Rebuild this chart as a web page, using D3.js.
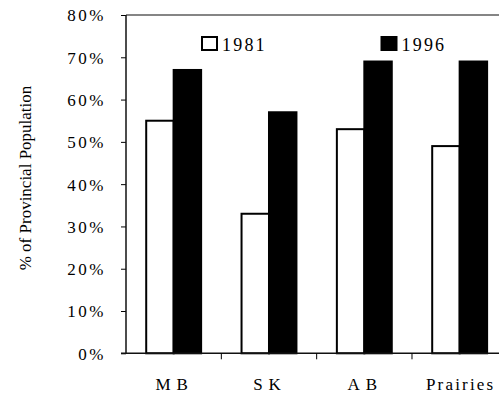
<!DOCTYPE html>
<html>
<head>
<meta charset="utf-8">
<script src="https://cdn.jsdelivr.net/npm/d3@7"></script>
<style>
  html, body { margin: 0; padding: 0; background: #fff; }
  svg { display: block; }
  text { font-family: "Liberation Serif", "Times New Roman", serif; fill: #000; }
</style>
</head>
<body>
<svg id="chart" width="499" height="395"></svg>
<script>
// Share of provincial population, by province, 1981 vs 1996
const categories = ["MB", "SK", "AB", "Prairies"];
const series = ["1981", "1996"];
const values1981 = [55, 33, 53, 49];
const values1996 = [67, 57, 69, 69];
const yTicks = [0, 10, 20, 30, 40, 50, 60, 70, 80];
const yTitle = "% of Provincial Population";

const serif = '"Liberation Serif", "Times New Roman", serif';
const svg = d3.select("#chart");
const plotLeft = 126, plotTop = 15, plotBottom = 353.3;
const band = 95.33;
const plotRight = plotLeft + band * categories.length;

const x0 = d3.scaleBand().domain(categories).range([plotLeft, plotRight]).padding(0);
const gap = x0.bandwidth() * 0.212;
const x1 = d3.scaleBand().domain(series).range([gap, x0.bandwidth() - gap]).padding(0);
const y = d3.scaleLinear().domain([0, 80]).range([plotBottom, plotTop]);

const rows = categories.map((c, i) => ({ cat: c, vals: [values1981[i], values1996[i]] }));
const fills = { "1981": "#fff", "1996": "#000" };

// top frame line
svg.append("line")
  .attr("x1", plotLeft).attr("x2", 499)
  .attr("y1", plotTop).attr("y2", plotTop)
  .attr("stroke", "#858585").attr("stroke-width", 2);

// bars
const groups = svg.append("g").selectAll("g").data(rows).join("g")
  .attr("transform", d => `translate(${x0(d.cat)},0)`);
groups.selectAll("rect")
  .data(d => d.vals.map((v, j) => ({ s: series[j], v })))
  .join("rect")
  .attr("x", d => x1(d.s))
  .attr("width", x1.bandwidth())
  .attr("y", d => y(d.v))
  .attr("height", d => y(0) - y(d.v))
  .attr("fill", d => fills[d.s])
  .attr("stroke", "#000")
  .attr("stroke-width", 2);

// y axis
const yAxis = svg.append("g")
  .attr("transform", `translate(${plotLeft},0)`)
  .call(d3.axisLeft(y).tickValues(yTicks).tickFormat(d => d + "%").tickSize(5).tickPadding(15));
yAxis.attr("font-family", null);
yAxis.select(".domain").remove();
yAxis.selectAll(".tick line").attr("stroke", "#000").attr("stroke-width", 1);
yAxis.selectAll(".tick text")
  .style("font-family", serif)
  .attr("font-size", 17)
  .attr("letter-spacing", 2.5)
  .attr("dy", "0.35em");
svg.append("line")
  .attr("x1", plotLeft).attr("x2", plotLeft)
  .attr("y1", plotTop).attr("y2", plotBottom)
  .attr("stroke", "#111").attr("stroke-width", 1.5);

// x axis with ticks at category boundaries
const xAxisG = svg.append("g");
xAxisG.append("line")
  .attr("x1", plotLeft - 5).attr("x2", 499)
  .attr("y1", plotBottom).attr("y2", plotBottom)
  .attr("stroke", "#111").attr("stroke-width", 1.5);
xAxisG.selectAll("line.tk").data(categories.slice(1)).join("line")
  .attr("class", "tk")
  .attr("x1", d => x0(d)).attr("x2", d => x0(d))
  .attr("y1", plotBottom).attr("y2", plotBottom + 6)
  .attr("stroke", "#000").attr("stroke-width", 1);
xAxisG.selectAll("text").data(categories).join("text")
  .attr("x", d => x0(d) + x0.bandwidth() / 2 + 1)
  .attr("y", 390)
  .attr("text-anchor", "middle")
  .style("font-family", serif)
  .attr("font-size", 17)
  .attr("letter-spacing", d => d.length <= 2 ? 6 : 2.2)
  .text(d => d);

// y title
svg.append("text")
  .attr("transform", "translate(31,178) rotate(-90)")
  .attr("text-anchor", "middle")
  .style("font-family", serif)
  .attr("font-size", 17)
  .text(yTitle);

// legend
const legendPos = [{ s: "1981", x: 202 }, { s: "1996", x: 381.5 }];
const lg = svg.append("g").selectAll("g").data(legendPos).join("g")
  .attr("transform", d => `translate(${d.x},37)`);
lg.append("rect")
  .attr("width", 15).attr("height", 13)
  .attr("fill", d => fills[d.s])
  .attr("stroke", "#000").attr("stroke-width", 2);
lg.append("text")
  .attr("x", 20).attr("y", 13.5)
  .style("font-family", serif)
  .attr("font-size", 18)
  .attr("letter-spacing", 2.2)
  .text(d => d.s);
</script>
</body>
</html>
